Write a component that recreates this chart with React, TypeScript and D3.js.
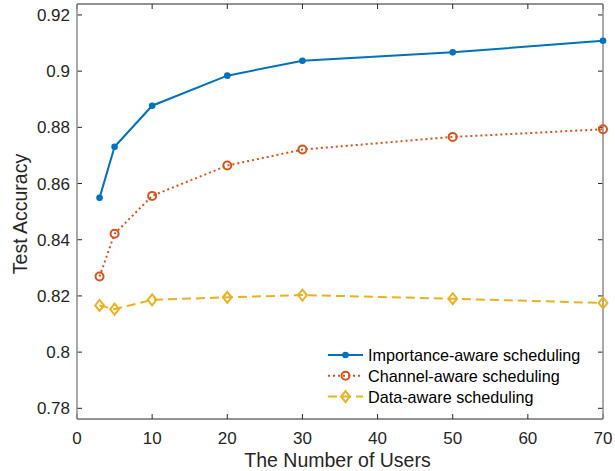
import React from "react";
import * as d3 from "d3";

const users = [3, 5, 10, 20, 30, 50, 70];
const importanceAware = [0.8549, 0.8731, 0.8877, 0.8984, 0.9037, 0.9067, 0.9108];
const channelAware = [0.8269, 0.8421, 0.8556, 0.8664, 0.8721, 0.8766, 0.8793];
const dataAware = [0.8166, 0.8153, 0.8186, 0.8195, 0.8203, 0.8190, 0.8175];
const xTicks = [0, 10, 20, 30, 40, 50, 60, 70];
const yTicks = [0.78, 0.8, 0.82, 0.84, 0.86, 0.88, 0.9, 0.92];
const seriesNames = ["Importance-aware scheduling", "Channel-aware scheduling", "Data-aware scheduling"];

const W = 615, H = 471;
const L = 77, R = 603, T = 4, B = 419;
const font = "'Liberation Sans', Arial, Helvetica, sans-serif";

export default function App() {
  const x = d3.scaleLinear().domain([0, 70]).range([L, R]);
  const y = d3.scaleLinear().domain([0.7762, 0.9239]).range([B, T]);
  const line = d3.line<[number, number]>().x(d => x(d[0])).y(d => y(d[1]));

  const series = [
    { name: seriesNames[0], vals: importanceAware, color: "#0072BD", dash: undefined as string | undefined, marker: "dot" },
    { name: seriesNames[1], vals: channelAware, color: "#D95319", dash: "2 3", marker: "circle" },
    { name: seriesNames[2], vals: dataAware, color: "#EDB120", dash: "9 5", marker: "diamond" },
  ];

  const marker = (m: string, cx: number, cy: number, color: string, key: any) => {
    if (m === "dot") return <circle key={key} cx={cx} cy={cy} r={3.3} fill={color} />;
    if (m === "circle") return <circle key={key} cx={cx} cy={cy} r={4} fill="none" stroke={color} strokeWidth={2} />;
    const s = 5.5;
    return <path key={key} d={`M${cx},${cy - s}L${cx + s * 0.8},${cy}L${cx},${cy + s}L${cx - s * 0.8},${cy}Z`} fill="none" stroke={color} strokeWidth={2} />;
  };

  return (
    <svg width={W} height={H} style={{ position: "absolute", left: 0, top: 0, background: "#fff" }} fontFamily={font}>
      <rect x={0} y={0} width={W} height={H} fill="#fff" />
      {xTicks.map((t, i) => (
        <g key={"xt" + i}>
          <line x1={x(t)} x2={x(t)} y1={B} y2={B - 5} stroke="#262626" />
          <line x1={x(t)} x2={x(t)} y1={T} y2={T + 5} stroke="#262626" />
          <text x={x(t)} y={B + 25} textAnchor="middle" fontSize={17} fill="#262626">{t}</text>
        </g>
      ))}
      {yTicks.map((t, i) => (
        <g key={"yt" + i}>
          <line x1={L} x2={L + 5} y1={y(t)} y2={y(t)} stroke="#262626" />
          <line x1={R} x2={R - 5} y1={y(t)} y2={y(t)} stroke="#262626" />
          <text x={L - 7} y={y(t) + 6} textAnchor="end" fontSize={17} fill="#262626">{String(t)}</text>
        </g>
      ))}
      <line x1={L} x2={R} y1={T} y2={T} stroke="#262626" />
      <line x1={L} x2={R} y1={B} y2={B} stroke="#262626" />
      <line x1={L} x2={L} y1={T} y2={B} stroke="#8c8c8c" strokeWidth={1.5} />
      <line x1={R} x2={R} y1={T} y2={B} stroke="#8c8c8c" strokeWidth={1.5} />
      {series.map((s, si) => (
        <g key={"s" + si}>
          <path d={line(users.map((u, i) => [u, s.vals[i]] as [number, number])) || ""} fill="none" stroke={s.color} strokeWidth={2} strokeDasharray={s.dash} />
          {users.map((u, i) => marker(s.marker, x(u), y(s.vals[i]), s.color, i))}
        </g>
      ))}
      {series.map((s, si) => {
        const ly = 355 + si * 20.8;
        return (
          <g key={"lg" + si}>
            <line x1={328} x2={363} y1={ly} y2={ly} stroke={s.color} strokeWidth={2} strokeDasharray={s.dash} />
            {marker(s.marker, 345.5, ly, s.color, "m")}
            <text x={368} y={ly + 6} fontSize={16.2} fill="#000">{s.name}</text>
          </g>
        );
      })}
      <text x={337.5} y={467} textAnchor="middle" fontSize={19.5} fill="#262626">The Number of Users</text>
      <text transform={`translate(27,214) rotate(-90)`} textAnchor="middle" fontSize={19.5} fill="#262626">Test Accuracy</text>
    </svg>
  );
}
